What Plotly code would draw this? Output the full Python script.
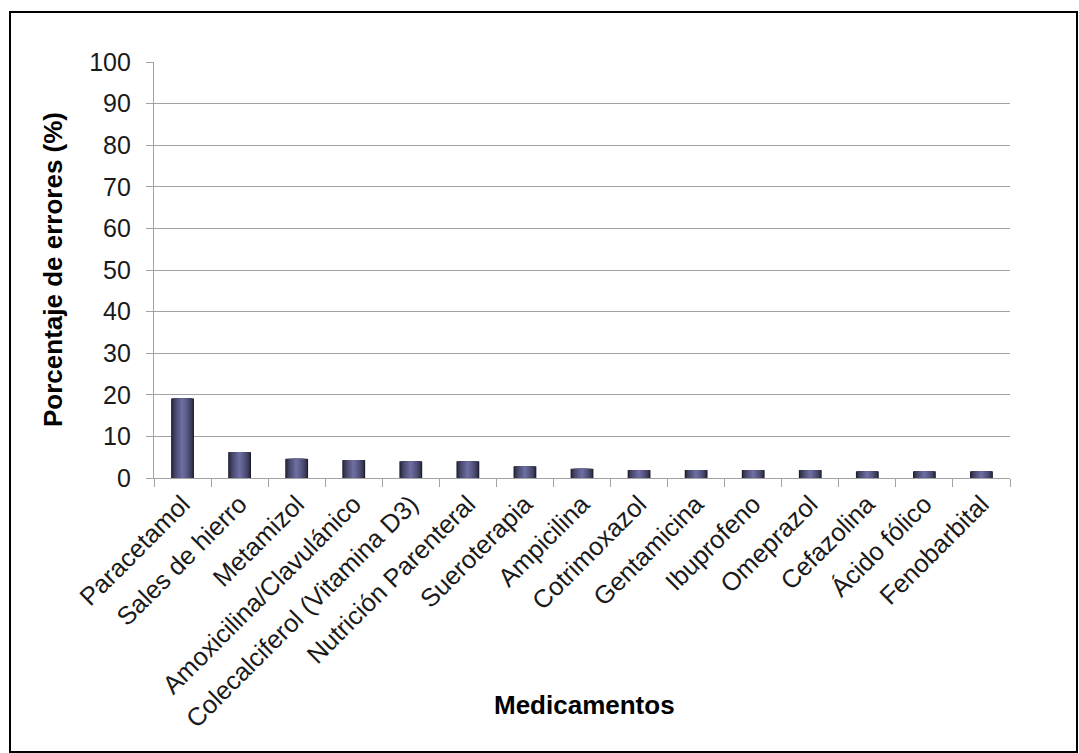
import plotly.graph_objects as go

# Medication error data
medicamentos = [
    "Paracetamol", "Sales de hierro", "Metamizol", "Amoxicilina/Clavulánico",
    "Colecalciferol (Vitamina D3)", "Nutrición Parenteral", "Sueroterapia",
    "Ampicilina", "Cotrimoxazol", "Gentamicina", "Ibuprofeno", "Omeprazol",
    "Cefazolina", "Ácido fólico", "Fenobarbital",
]
porcentaje = [19.1, 6.2, 4.6, 4.3, 4.0, 4.0, 2.8, 2.2, 1.9, 1.9, 1.9, 1.9, 1.6, 1.6, 1.6]

y_ticks = list(range(0, 101, 10))

W, H = 1079, 753
L, R, T, B = 154, 69, 62, 275
PW, PH = W - L - R, H - T - B


def px_x(px):
    return (px - L) / PW


def px_y(py):
    return (H - B - py) / PH


fig = go.Figure()

# Cylinder-style shading: stacked overlay bars, dark edges to light centre
dark = (28, 28, 44)
light = (108, 108, 160)
n_layers = 12
bar_w = 0.40
for i in range(n_layers):
    t = i / (n_layers - 1)
    s = t ** 0.6
    col = tuple(round(dark[k] + (light[k] - dark[k]) * s) for k in range(3))
    w = bar_w * (1 - 0.92 * t)
    fig.add_trace(go.Bar(
        x=medicamentos, y=porcentaje, width=w,
        marker=dict(color="rgb(%d,%d,%d)" % col, line=dict(width=0)),
        hoverinfo="x+y" if i == 0 else "skip", showlegend=False,
    ))

grid_col = "#a3a3a3"
family = "Liberation Sans, Arial, sans-serif"
xtick_font = dict(family=family, size=25.5, color="#1a1a1a")
ytick_font = dict(family=family, size=25, color="#1a1a1a")
title_font = dict(family=family, size=26, color="#000000")

fig.update_layout(
    width=W, height=H,
    margin=dict(l=L, r=R, t=T, b=B, pad=0),
    paper_bgcolor="white", plot_bgcolor="white",
    barmode="overlay", bargap=0.6,
    xaxis=dict(
        type="category", tickangle=-45, tickfont=xtick_font,
        showline=True, linecolor=grid_col, linewidth=1.3,
        ticks="outside", ticklen=8, tickcolor=grid_col, tickwidth=1.3,
        tickson="boundaries", showgrid=False, zeroline=False,
        range=[-0.5, len(medicamentos) - 0.5],
    ),
    yaxis=dict(
        range=[0, 100], tickvals=y_ticks, tickfont=ytick_font,
        showline=True, linecolor=grid_col, linewidth=1.3,
        ticks="outside", ticklen=7, tickcolor=grid_col, tickwidth=1.3,
        showgrid=True, gridcolor=grid_col, gridwidth=1.3,
        zeroline=False, ticklabelstandoff=10,
    ),
    annotations=[
        dict(text="<b>Porcentaje de errores (%)</b>", xref="paper", yref="paper",
             x=px_x(53), y=0.5, textangle=-90, showarrow=False,
             xanchor="center", yanchor="middle", font=title_font),
        dict(text="<b>Medicamentos</b>", xref="paper", yref="paper",
             x=px_x(584), y=px_y(705), showarrow=False,
             xanchor="center", yanchor="middle", font=title_font),
    ],
    shapes=[
        dict(type="rect", xref="paper", yref="paper",
             x0=px_x(10), x1=px_x(1077), y0=px_y(752), y1=px_y(12),
             line=dict(color="black", width=2), fillcolor="rgba(0,0,0,0)",
             layer="below"),
    ],
)

fig.write_html("out.html")
